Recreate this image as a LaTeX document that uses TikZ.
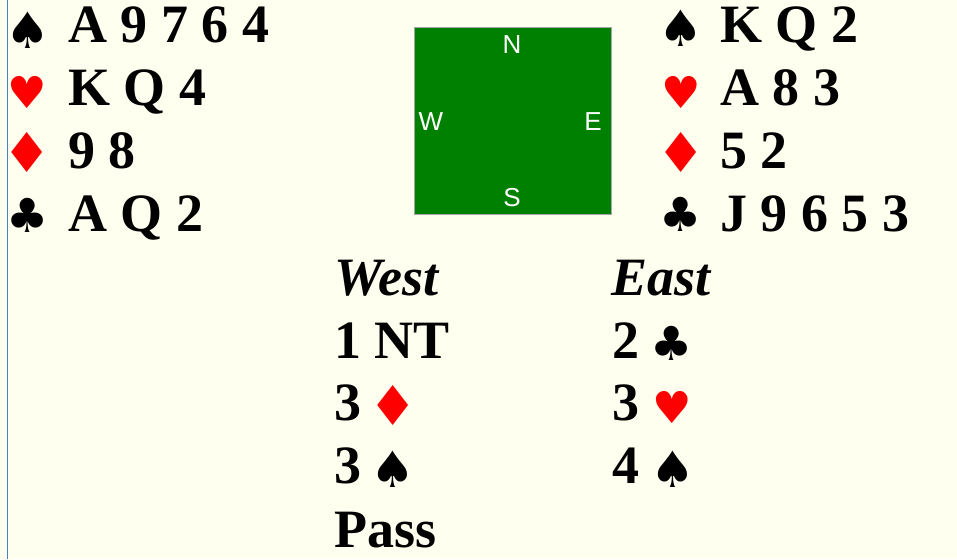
\documentclass[tikz,border=0pt]{standalone}
\usepackage{fontspec}
\setmainfont{Liberation Serif}
\newfontfamily\suitfont{DejaVu Sans}
\newfontfamily\compassfont{Liberation Sans}
\definecolor{bgcream}{HTML}{FFFFF0}
\definecolor{tablegreen}{HTML}{008000}
\definecolor{edgeblue}{HTML}{4A7EC8}
\definecolor{suitred}{HTML}{FF0000}
\begin{document}
\begin{tikzpicture}[x=1pt,y=-1pt,
  cardtext/.style={anchor=base west,inner sep=0pt,font=\fontsize{54}{60}\selectfont\bfseries},
  bidhead/.style={anchor=base west,inner sep=0pt,font=\fontsize{54}{60}\selectfont\bfseries\itshape},
  suitsym/.style={anchor=center,inner sep=0pt},
  spadesym/.style={suitsym,text=black,font=\suitfont\fontsize{50}{60}\selectfont},
  heartsym/.style={suitsym,text=suitred,font=\suitfont\fontsize{44}{60}\selectfont},
  diamondsym/.style={suitsym,text=suitred,font=\suitfont\fontsize{55}{60}\selectfont},
  clubsym/.style={suitsym,text=black,font=\suitfont\fontsize{47}{60}\selectfont},
  compass/.style={anchor=center,inner sep=0pt,text=white,font=\compassfont\fontsize{26}{30}\selectfont}]
\fill[bgcream] (0,0) rectangle (957,559);
\useasboundingbox (0,0) rectangle (957,559);
\draw[edgeblue,line width=1.3pt] (7.5,0) -- (7.5,559);
% compass table
\node[draw=gray!70,line width=1pt,fill=tablegreen,minimum width=197pt,minimum height=187pt,inner sep=0pt,anchor=north west] (table) at (414,27) {};
\node[compass] (north) at (512,45) {N};
\node[compass] (west) at (431,122) {W};
\node[compass] (east) at (593,122) {E};
\node[compass] (south) at (512,198) {S};
% West hand
\node[spadesym] (ws) at (27.5,30) {♠};
\node[heartsym] (wh) at (27.5,92.5) {♥};
\node[diamondsym] (wd) at (27.5,152) {♦};
\node[clubsym] (wc) at (27.5,215) {♣};
\node[cardtext] (wst) at (68,43) {A 9 7 6 4};
\node[cardtext] (wht) at (68,106) {K Q 4};
\node[cardtext] (wdt) at (68,168) {9 8};
\node[cardtext] (wct) at (68,231) {A Q 2};
% East hand
\node[spadesym] (es) at (681,28.5) {♠};
\node[heartsym] (eh) at (681,92.5) {♥};
\node[diamondsym] (ed) at (681,152) {♦};
\node[clubsym] (ec) at (681,214) {♣};
\node[cardtext] (est) at (720,43) {K Q 2};
\node[cardtext] (eht) at (720,106) {A 8 3};
\node[cardtext] (edt) at (720,168) {5 2};
\node[cardtext] (ect) at (720,231) {J 9 6 5 3};
% Auction
\node[bidhead] (westhead) at (334,295) {West};
\node[bidhead] (easthead) at (611,295) {East};
\node[cardtext] (b1) at (334,358) {1 NT};
\node[cardtext] (b2) at (612,358) {2};
\node[clubsym] (b2s) at (672,343) {♣};
\node[cardtext] (b3) at (334,420) {3};
\node[diamondsym] (b3s) at (393.5,405.5) {♦};
\node[cardtext] (b4) at (612,420) {3};
\node[heartsym] (b4s) at (672.5,407.5) {♥};
\node[cardtext] (b5) at (334,483) {3};
\node[spadesym] (b5s) at (393,469.5) {♠};
\node[cardtext] (b6) at (612,483) {4};
\node[spadesym] (b6s) at (672.5,469.5) {♠};
\node[cardtext] (b7) at (334,547) {Pass};
\end{tikzpicture}
\end{document}
